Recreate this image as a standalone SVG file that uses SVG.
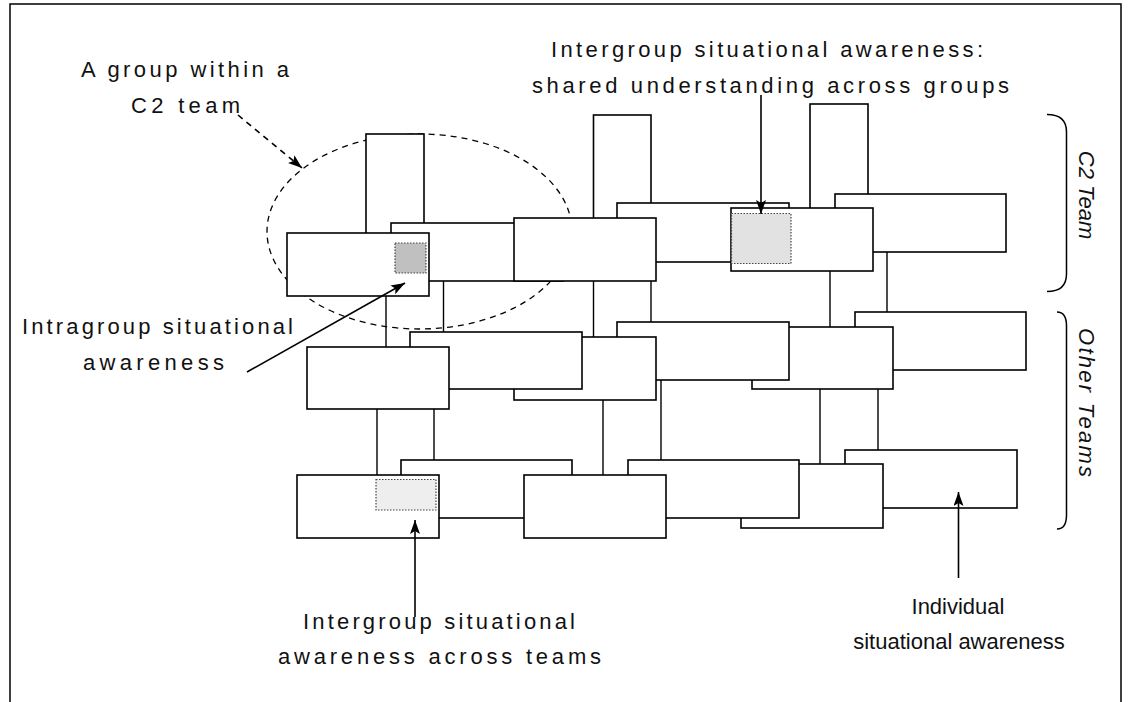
<svg xmlns="http://www.w3.org/2000/svg" width="1131" height="702" viewBox="0 0 1131 702">
<style>
.box{fill:#fff;stroke:#000;stroke-width:1.6}
.conn{stroke:#000;stroke-width:1.4;fill:none}
.shade{stroke:#444;stroke-width:1.2;stroke-dasharray:1.5 1.5}
.lbl{font-family:"Liberation Sans",Arial,sans-serif;font-size:22px;fill:#111}
.vlbl{font-family:"Liberation Sans",Arial,sans-serif;font-size:22px;font-style:italic;fill:#111}
.brace{fill:none;stroke:#000;stroke-width:1.5}
.arrow{stroke:#000;stroke-width:1.6;fill:none}
</style>
<defs>
<marker id="ah" markerUnits="userSpaceOnUse" markerWidth="15" markerHeight="11" refX="14" refY="5" orient="auto">
<path d="M0,0 L14,5 L0,10 L3,5 z" fill="#000"/>
</marker>
</defs>
<rect width="1131" height="702" fill="#fff"/>
<path d="M10,702 V4 H1121 V702" fill="none" stroke="#000" stroke-width="1.5"/>

<g id="group-ellipse">
<ellipse cx="419.5" cy="231.5" rx="152.5" ry="97.5" fill="none" stroke="#000" stroke-width="1.3" stroke-dasharray="6 5"/>
</g>

<g id="connectors">
<line class="conn" x1="386" y1="296" x2="386" y2="347"/>
<line class="conn" x1="443.5" y1="281" x2="443.5" y2="332"/>
<line class="conn" x1="593.5" y1="281" x2="593.5" y2="337"/>
<line class="conn" x1="651" y1="281" x2="651" y2="322"/>
<line class="conn" x1="830" y1="271" x2="830" y2="327"/>
<line class="conn" x1="887" y1="252" x2="887" y2="312"/>
<line class="conn" x1="377" y1="409" x2="377" y2="475"/>
<line class="conn" x1="434" y1="409" x2="434" y2="460"/>
<line class="conn" x1="603" y1="400" x2="603" y2="475"/>
<line class="conn" x1="661" y1="380" x2="661" y2="460"/>
<line class="conn" x1="820" y1="389" x2="820" y2="464"/>
<line class="conn" x1="878" y1="389" x2="878" y2="450"/>
</g>

<g id="tallA"><rect class="box" x="366" y="134" width="58" height="100"/></g>
<g id="tallB"><rect class="box" x="593.5" y="115" width="57.5" height="110"/></g>
<g id="tallC"><rect class="box" x="810" y="104" width="58" height="110"/></g>

<g id="r1b"><rect class="box" x="391" y="223" width="172" height="58"/></g>
<g id="r1d"><rect class="box" x="617" y="203" width="172" height="59"/></g>
<g id="r1f"><rect class="box" x="835" y="194" width="171" height="58"/></g>
<g id="r1a"><rect class="box" x="287" y="233" width="142" height="63"/>
<rect class="shade" x="395" y="243" width="31" height="30" fill="#c0c0c0"/></g>
<g id="r1c"><rect class="box" x="514" y="218" width="142" height="63"/></g>
<g id="r1e"><rect class="box" x="731" y="208" width="142" height="63"/>
<rect class="shade" x="731.5" y="213.5" width="59.5" height="50" fill="#e2e2e2"/></g>

<g id="r2f"><rect class="box" x="855" y="312" width="171" height="58"/></g>
<g id="r2e"><rect class="box" x="752" y="327" width="141" height="62"/></g>
<g id="r2d"><rect class="box" x="617" y="322" width="172" height="58"/></g>
<g id="r2c"><rect class="box" x="514" y="337" width="142" height="63"/></g>
<g id="r2b"><rect class="box" x="410" y="332" width="172" height="57"/></g>
<g id="r2a"><rect class="box" x="307" y="347" width="142" height="62"/></g>

<g id="r3f"><rect class="box" x="845" y="450" width="172" height="58"/></g>
<g id="r3e"><rect class="box" x="741" y="464" width="142" height="64"/></g>
<g id="r3d"><rect class="box" x="628" y="460" width="171" height="58"/></g>
<g id="r3b"><rect class="box" x="401" y="460" width="171" height="58"/></g>
<g id="r3a"><rect class="box" x="297" y="475" width="142" height="63"/>
<rect class="shade" x="376" y="479.5" width="60" height="30.5" fill="#eeeeee"/></g>
<g id="r3c"><rect class="box" x="524" y="475" width="142" height="63"/></g>

<g id="braces">
<path class="brace" d="M1047,114.5 Q1066.5,114.5 1066.5,132 V274 Q1066.5,291.5 1047,291.5"/>
<path class="brace" d="M1057,312 Q1066.5,312 1066.5,326 V515 Q1066.5,529 1057,529"/>
</g>

<g id="callouts">
<line class="arrow" x1="238" y1="115" x2="302" y2="168" stroke-dasharray="6 5" marker-end="url(#ah)"/>
<line class="arrow" x1="247" y1="372" x2="405" y2="283" marker-end="url(#ah)"/>
<line class="arrow" x1="761" y1="95" x2="761" y2="214" marker-end="url(#ah)"/>
<line class="arrow" x1="415" y1="617" x2="415" y2="520" marker-end="url(#ah)"/>
<line class="arrow" x1="958.5" y1="578" x2="958.5" y2="492" marker-end="url(#ah)"/>
</g>

<g id="labels">
<text class="lbl" x="81" y="77" textLength="208" lengthAdjust="spacing">A group within a</text>
<text class="lbl" x="131" y="113" textLength="109" lengthAdjust="spacing">C2 team</text>
<text class="lbl" x="551" y="57" textLength="432" lengthAdjust="spacing">Intergroup situational awareness:</text>
<text class="lbl" x="532" y="93" textLength="477" lengthAdjust="spacing">shared understanding across groups</text>
<text class="lbl" x="22" y="334" textLength="271" lengthAdjust="spacing">Intragroup situational</text>
<text class="lbl" x="83" y="370" textLength="141" lengthAdjust="spacing">awareness</text>
<text class="lbl" x="303" y="629" textLength="272" lengthAdjust="spacing">Intergroup situational</text>
<text class="lbl" x="278" y="664" textLength="323" lengthAdjust="spacing">awareness across teams</text>
<text class="lbl" x="958" y="614" text-anchor="middle">Individual</text>
<text class="lbl" x="959" y="649" text-anchor="middle">situational awareness</text>
<text class="vlbl" transform="translate(1079,195) rotate(90)" text-anchor="middle" x="0" y="0">C2 Team</text>
<text class="vlbl" transform="translate(1079,328) rotate(90)" x="0" y="0" textLength="149" lengthAdjust="spacing">Other Teams</text>
</g>
</svg>
